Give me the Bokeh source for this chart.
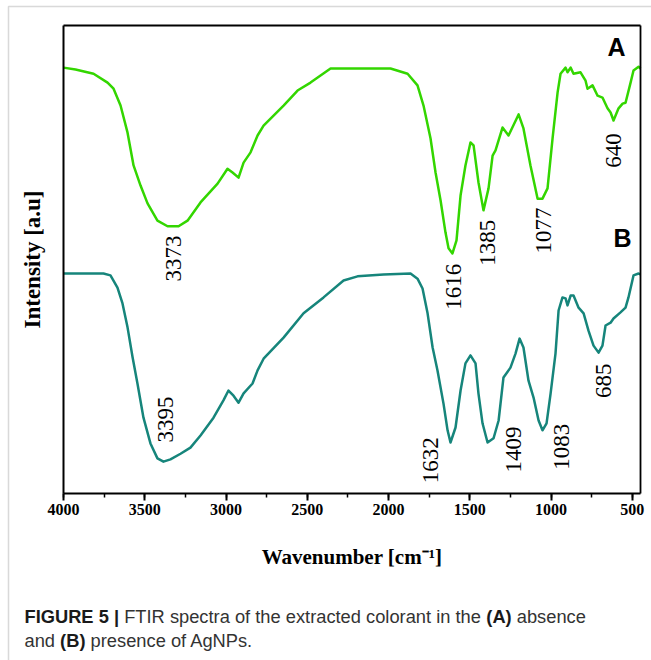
import math
from bokeh.plotting import figure
from bokeh.models import (Range1d, SingleIntervalTicker, FixedTicker, Label, BoxAnnotation,
                          LinearAxis)
from bokeh.embed import file_html
from bokeh.resources import INLINE

# ---- data (wavenumber cm^-1, intensity a.u.) ----
wn_a = [4000, 3926, 3815, 3729, 3692, 3649, 3606, 3569, 3526, 3483, 3422, 3360, 3292, 3237,
        3157, 3052, 2991, 2960, 2923, 2892, 2849, 2806, 2769, 2646, 2560, 2480, 2357, 1988,
        1883, 1822, 1785, 1742, 1711, 1680, 1650, 1631, 1607, 1582, 1557, 1527, 1496, 1477,
        1447, 1416, 1385, 1360, 1342, 1299, 1262, 1200, 1170, 1127, 1083, 1053, 1022, 991,
        960, 942, 911, 899, 880, 862, 819, 788, 776, 745, 714, 684, 653, 634, 616, 585,
        560, 542, 511, 493, 462, 450]
int_a = [91.0, 90.6, 89.7, 87.8, 86.5, 82.9, 77.1, 70.1, 65.8, 62.0, 58.3, 57.1, 57.1, 58.3,
         62.2, 66.2, 69.4, 68.6, 67.5, 70.7, 72.9, 76.5, 78.6, 82.9, 86.1, 87.8, 90.8, 90.8,
         89.7, 87.2, 82.9, 75.9, 68.6, 62.6, 55.8, 52.4, 51.3, 54.1, 63.7, 70.1, 75.0, 74.4,
         66.5, 60.5, 65.2, 72.2, 73.3, 78.2, 76.5, 81.0, 78.0, 70.1, 63.0, 63.0, 65.2, 75.9,
         85.7, 89.7, 91.0, 90.0, 91.0, 89.7, 90.0, 88.2, 86.5, 87.2, 85.0, 84.6, 82.3, 81.4,
         79.7, 82.3, 83.3, 83.5, 87.8, 90.4, 91.2, 90.8]

wn_b = [4000, 3754, 3711, 3668, 3637, 3606, 3575, 3545, 3508, 3465, 3422, 3385, 3342, 3280,
        3219, 3157, 3077, 3016, 2985, 2954, 2923, 2892, 2837, 2806, 2769, 2646, 2523, 2400,
        2277, 2191, 2031, 1865, 1822, 1791, 1760, 1729, 1699, 1662, 1637, 1619, 1588, 1557,
        1527, 1496, 1465, 1447, 1422, 1391, 1354, 1323, 1293, 1250, 1219, 1194, 1170, 1139,
        1108, 1077, 1053, 1028, 1003, 973, 954, 930, 911, 899, 880, 862, 831, 800, 770, 739,
        708, 684, 665, 634, 616, 573, 542, 524, 493, 462, 450]
int_b = [47.0, 47.0, 46.6, 44.0, 40.6, 35.5, 29.1, 23.5, 16.2, 10.7, 7.5, 6.8, 7.3, 8.5,
         9.8, 12.4, 16.2, 19.9, 22.0, 20.9, 19.4, 21.4, 23.5, 26.3, 28.8, 33.3, 38.5, 41.9,
         45.5, 46.4, 46.8, 47.0, 45.9, 43.8, 38.5, 31.2, 26.3, 19.2, 13.5, 10.9, 14.1, 22.0,
         27.8, 29.5, 27.8, 21.4, 15.0, 10.9, 11.8, 15.6, 24.8, 26.9, 29.9, 33.1, 31.2, 24.1,
         20.5, 15.6, 13.5, 15.0, 21.4, 29.9, 39.1, 41.9, 41.7, 40.2, 42.3, 42.3, 39.7, 38.5,
         34.8, 31.6, 30.1, 31.6, 35.9, 36.5, 37.4, 38.7, 39.7, 41.9, 46.6, 47.0, 46.8]

peak_text_a = ["3373", "1616", "1385", "1077", "640"]
peak_text_b = ["3395", "1632", "1409", "1083", "685"]

# plotted window of the spectrum
X_MAX, X_MIN = 4000, 450
Y_MIN, Y_MAX = 0, 100

# label anchor positions (data coords)
pos_a = [(3323, 50.2), (1600, 44.2), (1391, 53.6), (1047, 56.2), (616, 73.3)]
pos_b = [(3372, 15.8), (1742, 7.1), (1231, 9.4), (936, 10.0), (677, 24.1)]

GREEN = "#33d600"
TEAL = "#16857b"
SERIF = "Liberation Serif"
SANS = "Liberation Sans"

W, H = 651, 660
# frame of the spectrum inside the canvas (pixels): left, right, top, bottom
FL, FR, FT, FB = 63, 640, 25, 493
sx = (X_MAX - X_MIN) / (FR - FL)
sy = (Y_MAX - Y_MIN) / (FB - FT)
x_range = Range1d(X_MAX + FL * sx, X_MIN - (W - FR) * sx)
y_range = Range1d(Y_MIN - (H - FB) * sy, Y_MAX + FT * sy)

p = figure(width=W, height=H, x_range=x_range, y_range=y_range,
           output_backend="svg", toolbar_location=None, x_axis_type=None, y_axis_type=None,
           min_border=0, min_border_left=0, min_border_right=0, min_border_top=0,
           min_border_bottom=0)
p.grid.visible = False
p.outline_line_color = None
p.background_fill_color = "white"
p.border_fill_color = "white"

p.line(wn_a, int_a, line_color=GREEN, line_width=2.5, line_join="round")
p.line(wn_b, int_b, line_color=TEAL, line_width=2.5, line_join="round")

# bottom x axis
xa = LinearAxis(fixed_location=Y_MIN, bounds=(X_MIN, X_MAX))
xa.ticker = SingleIntervalTicker(interval=500, num_minor_ticks=2)
xa.axis_line_width = 2
xa.major_tick_line_width = 2
xa.minor_tick_line_width = 1.5
xa.major_tick_in = 0
xa.major_tick_out = 7
xa.minor_tick_in = 0
xa.minor_tick_out = 4
xa.major_label_text_font = SERIF
xa.major_label_text_font_style = "bold"
xa.major_label_text_font_size = "16px"
xa.major_label_text_color = "black"
xa.major_label_standoff = 3
xa.axis_label = "Wavenumber [cm\u207b\u00b9]"
xa.axis_label_text_font = SERIF
xa.axis_label_text_font_style = "bold"
xa.axis_label_text_font_size = "21px"
xa.axis_label_text_color = "black"
xa.axis_label_standoff = 27
p.add_layout(xa, "below")

# left y axis
ya = LinearAxis(fixed_location=X_MAX, bounds=(Y_MIN, Y_MAX))
ya.ticker = FixedTicker(ticks=[])
ya.major_tick_out = 0
ya.minor_tick_out = 0
ya.major_label_text_font_size = "0px"
ya.axis_line_width = 2
ya.axis_label = "Intensity [a.u]"
ya.axis_label_text_font = SERIF
ya.axis_label_text_font_style = "bold"
ya.axis_label_text_font_size = "23px"
ya.axis_label_text_color = "black"
ya.axis_label_standoff = 19
p.add_layout(ya, "left")

# top and right frame lines
for place, loc, bnds in (("above", Y_MAX, (X_MIN, X_MAX)), ("right", X_MIN, (Y_MIN, Y_MAX))):
    ax = LinearAxis(fixed_location=loc, bounds=bnds, ticker=FixedTicker(ticks=[]))
    ax.major_tick_out = 0
    ax.minor_tick_out = 0
    ax.major_label_text_font_size = "0px"
    ax.axis_line_width = 1.8
    p.add_layout(ax, place)

# peak labels
for txt, (x, y) in zip(peak_text_a + peak_text_b, pos_a + pos_b):
    p.add_layout(Label(x=x, y=y, text=txt, angle=math.pi / 2, text_align="center",
                       text_baseline="middle", text_font=SERIF, text_font_size="23px",
                       text_color="black"))

p.add_layout(Label(x=597, y=95.3, text="A", text_align="center", text_baseline="middle",
                   text_font=SANS, text_font_style="bold", text_font_size="25px", text_color="black"))
p.add_layout(Label(x=560, y=54.5, text="B", text_align="center", text_baseline="middle",
                   text_font=SANS, text_font_style="bold", text_font_size="25px", text_color="black"))

# outer figure frame (screen units, only top and left edges fall inside the canvas)
p.add_layout(BoxAnnotation(left=8, right=W + 50, top=H - 6, bottom=-50,
                           left_units="screen", right_units="screen",
                           top_units="screen", bottom_units="screen",
                           fill_color=None, fill_alpha=0, line_color="#808080", line_width=1.5,
                           level="underlay"))

# caption with mixed bold, using Arial-compatible metrics
REG = {' ': 278, '(': 333, ')': 333, '|': 260, '.': 278, 'A': 667, 'B': 667, 'F': 611, 'T': 611,
       'I': 278, 'R': 722, 'N': 722, 'P': 667, 'a': 556, 'b': 556, 'c': 500, 'd': 556, 'e': 556,
       'f': 278, 'g': 556, 'h': 556, 'i': 222, 'l': 222, 'n': 556, 'o': 556, 'p': 556, 'r': 333,
       's': 500, 't': 278, 'x': 500}
BLD = {' ': 278, '(': 333, ')': 333, '|': 280, 'A': 722, 'B': 722, 'F': 611, 'I': 278, 'G': 778,
       'U': 722, 'R': 722, 'E': 667, '5': 556}
CAP_SIZE = 18.3


def width(s, bold):
    tbl = BLD if bold else REG
    return sum(tbl.get(ch, 556) for ch in s) * CAP_SIZE / 1000.0


caption_lines = [
    [("FIGURE 5 |", True), (" FTIR spectra of the extracted colorant in the ", False),
     ("(A)", True), (" absence", False)],
    [("and ", False), ("(B)", True), (" presence of AgNPs.", False)],
]
line_y = [H - 616, H - 640]
for segs, yy in zip(caption_lines, line_y):
    xx = 24.0
    for s, bold in segs:
        stripped = s.lstrip(" ")
        xx += width(s[:len(s) - len(stripped)], bold)
        p.add_layout(Label(x=xx, y=yy, x_units="screen", y_units="screen", text=stripped.rstrip(" "),
                           text_align="left", text_baseline="middle", text_font=SANS,
                           text_font_style="bold" if bold else "normal",
                           text_font_size=f"{CAP_SIZE}px",
                           text_color="#1a1a1a" if bold else "#333333"))
        xx += width(stripped, bold)

open("out.html", "w").write(file_html(p, INLINE))
